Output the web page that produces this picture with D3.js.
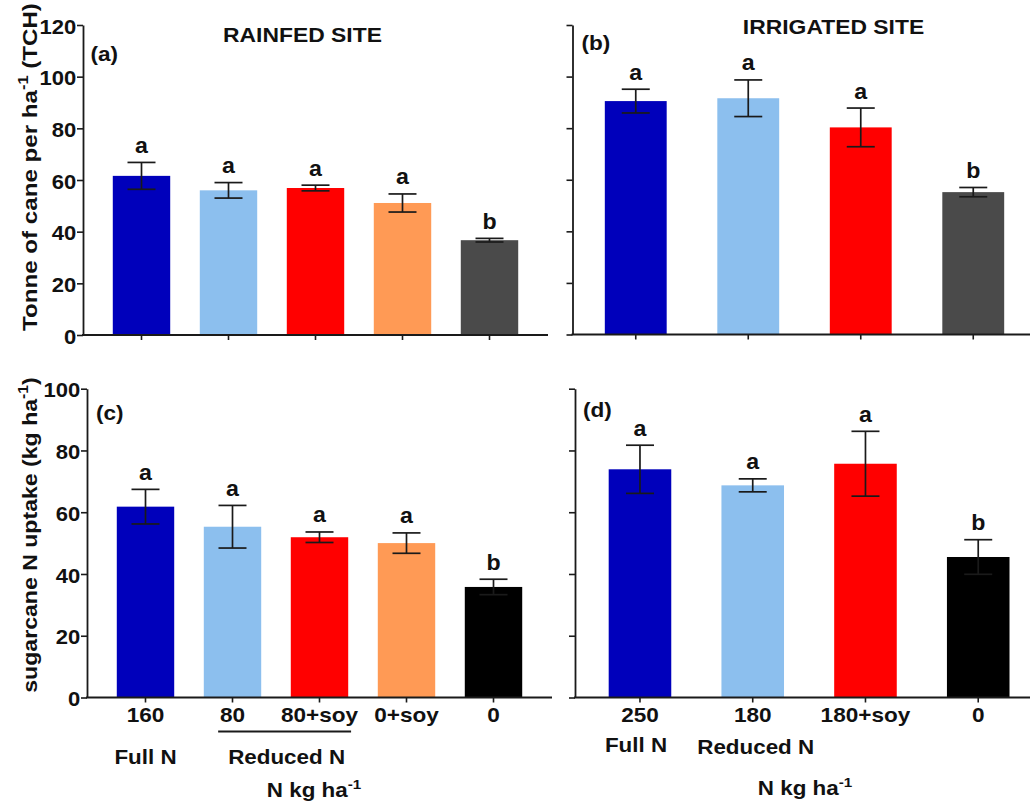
<!DOCTYPE html>
<html>
<head>
<meta charset="utf-8">
<script src="https://cdn.jsdelivr.net/npm/d3@7"></script>
<style>
  html, body { margin: 0; padding: 0; background: #fff; }
  svg { display: block; }
</style>
</head>
<body>
<svg id="chart" width="1030" height="801"></svg>
<script>
// ---------------- DATA ----------------
const rainfedCats = ["160", "80", "80+soy", "0+soy", "0"];
const irrigatedCats = ["250", "180", "180+soy", "0"];

// (a) Tonne of cane per ha, rainfed
const tchRainfed = [61.6, 56.0, 56.9, 51.1, 36.7];
const tchRainfedErr = [5.2, 3.0, 1.1, 3.5, 0.7];
const tchRainfedLetters = ["a", "a", "a", "a", "b"];
// (b) Tonne of cane per ha, irrigated
const tchIrrigated = [90.5, 91.6, 80.3, 55.2];
const tchIrrigatedErr = [4.6, 7.1, 7.5, 1.8];
const tchIrrigatedLetters = ["a", "a", "a", "b"];
// (c) sugarcane N uptake, rainfed
const nupRainfed = [61.8, 55.3, 51.9, 50.0, 35.8];
const nupRainfedErr = [5.6, 6.9, 1.7, 3.3, 2.5];
const nupRainfedLetters = ["a", "a", "a", "a", "b"];
// (d) sugarcane N uptake, irrigated
const nupIrrigated = [73.9, 68.7, 75.7, 45.5];
const nupIrrigatedErr = [7.8, 2.1, 10.5, 5.6];
const nupIrrigatedLetters = ["a", "a", "a", "b"];

const tchTicks = [0, 20, 40, 60, 80, 100, 120];
const nupTicks = [0, 20, 40, 60, 80, 100];

// ---------------- STYLE ----------------
const colTopRain = ["#0000BB", "#8CBFEE", "#FF0000", "#FF9A55", "#4A4A4A"];
const colTopIrr  = ["#0000BB", "#8CBFEE", "#FF0000", "#4A4A4A"];
const colBotRain = ["#0000BB", "#8CBFEE", "#FF0000", "#FF9A55", "#000000"];
const colBotIrr  = ["#0000BB", "#8CBFEE", "#FF0000", "#000000"];
const FONT = "'Liberation Sans', Arial, Helvetica, sans-serif";
const INK = "#1a1a1a";

const svg = d3.select("#chart").style("font-family", FONT).style("font-weight", "bold");

// text helper with horizontal (text-direction) stretch and superscripts
function txt(x, y, parts, o) {
  o = Object.assign({ size: 20, sx: 1.12, rot: 0, anchor: "start" }, o || {});
  const t = svg.append("text")
    .attr("transform", `translate(${x},${y}) rotate(${o.rot}) scale(${o.sx},1)`)
    .attr("text-anchor", o.anchor)
    .style("font-size", o.size + "px")
    .attr("fill", "#111");
  if (typeof parts === "string") parts = [{ t: parts }];
  let shifted = false;
  parts.forEach(p => {
    const s = t.append("tspan").text(p.t);
    if (p.sup) {
      s.attr("dy", -o.size * 0.42).style("font-size", (o.size * 0.68) + "px");
      shifted = true;
    } else if (shifted) {
      s.attr("dy", o.size * 0.42);
      shifted = false;
    }
  });
  return t;
}

const panels = [
  { cats: rainfedCats, vals: tchRainfed, errs: tchRainfedErr, letters: tchRainfedLetters, colors: colTopRain,
    ticks: tchTicks, domain: [0, 120], axX: 83, axEnd: 548, band: [98, 533], pad: 0.34,
    yTop: 25, yBot: 335, yLabels: true, xLabels: false, tag: "(a)", tagPos: [90.5, 61] },
  { cats: irrigatedCats, vals: tchIrrigated, errs: tchIrrigatedErr, letters: tchIrrigatedLetters, colors: colTopIrr,
    ticks: tchTicks, domain: [0, 120], axX: 572.5, axEnd: 1040, band: [579.5, 1029.5], pad: 0.45,
    yTop: 25, yBot: 334.5, yLabels: false, xLabels: false, tag: "(b)", tagPos: [581.5, 50] },
  { cats: rainfedCats, vals: nupRainfed, errs: nupRainfedErr, letters: nupRainfedLetters, colors: colBotRain,
    ticks: nupTicks, domain: [0, 100], axX: 87, axEnd: 552, band: [102, 537], pad: 0.34,
    yTop: 388.7, yBot: 697.5, yLabels: true, xLabels: true, tag: "(c)", tagPos: [96, 420] },
  { cats: irrigatedCats, vals: nupIrrigated, errs: nupIrrigatedErr, letters: nupIrrigatedLetters, colors: colBotIrr,
    ticks: nupTicks, domain: [0, 100], axX: 575, axEnd: 1040, band: [583.6, 1034.6], pad: 0.445,
    yTop: 388.7, yBot: 697.5, yLabels: false, xLabels: true, tag: "(d)", tagPos: [583, 417] }
];

const CAP = 14; // half cap width

panels.forEach(p => {
  const x = d3.scaleBand().domain(p.cats).range(p.band).paddingInner(p.pad).paddingOuter(p.pad / 2);
  const y = d3.scaleLinear().domain(p.domain).range([p.yBot, p.yTop]);
  const rows = p.cats.map((c, i) => ({ c, v: p.vals[i], e: p.errs[i], l: p.letters[i], col: p.colors[i] }));

  const g = svg.append("g");
  // bars
  g.selectAll("rect.bar").data(rows).join("rect")
    .attr("x", d => x(d.c)).attr("width", x.bandwidth())
    .attr("y", d => y(d.v)).attr("height", d => y(0) - y(d.v))
    .attr("fill", d => d.col);

  // error bars
  const eb = g.selectAll("g.err").data(rows).join("g")
    .attr("transform", d => `translate(${x(d.c) + x.bandwidth() / 2},0)`)
    .attr("stroke", INK).attr("stroke-width", 1.7);
  eb.append("line").attr("x1", 0).attr("x2", 0).attr("y1", d => y(d.v - d.e)).attr("y2", d => y(d.v + d.e));
  eb.append("line").attr("x1", -CAP).attr("x2", CAP).attr("y1", d => y(d.v + d.e)).attr("y2", d => y(d.v + d.e));
  eb.append("line").attr("x1", -CAP).attr("x2", CAP).attr("y1", d => y(d.v - d.e)).attr("y2", d => y(d.v - d.e));

  // significance letters
  rows.forEach(d => {
    txt(x(d.c) + x.bandwidth() / 2, y(d.v + d.e) - 9.5, d.l, { size: 22.5, sx: 1.03, anchor: "middle" });
  });

  // y axis
  const ya = d3.axisLeft(y).tickValues(p.ticks).tickSize(6).tickSizeOuter(0).tickPadding(0)
    .tickFormat(p.yLabels ? d3.format("d") : () => "");
  const yg = svg.append("g").attr("transform", `translate(${p.axX},0)`).call(ya);
  yg.select(".domain").attr("stroke", INK).attr("stroke-width", 1.8);
  yg.selectAll(".tick line").attr("stroke", INK).attr("stroke-width", 1.6);
  yg.selectAll(".tick text")
    .attr("font-family", FONT).attr("font-weight", "bold").attr("font-size", 19.5)
    .attr("fill", "#111").attr("dy", "0.42em").attr("transform", "scale(1.13,1)");

  // x axis (ticks + labels from band scale), with separate base line
  const xa = d3.axisBottom(x).tickSize(5).tickSizeOuter(0).tickPadding(5)
    .tickFormat(p.xLabels ? (d => d) : () => "");
  const xg = svg.append("g").attr("transform", `translate(0,${p.yBot})`).call(xa);
  xg.select(".domain").remove();
  xg.selectAll(".tick line").attr("stroke", INK).attr("stroke-width", 1.6);
  xg.selectAll(".tick text")
    .attr("font-family", FONT).attr("font-weight", "bold").attr("font-size", 20)
    .attr("fill", "#111").attr("transform", "scale(1.13,1)");
  svg.append("line").attr("x1", p.axX - 1).attr("x2", p.axEnd).attr("y1", p.yBot).attr("y2", p.yBot)
    .attr("stroke", INK).attr("stroke-width", 1.8);

  // panel tag
  txt(p.tagPos[0], p.tagPos[1], p.tag, { size: 20.5, sx: 1.1 });

  p.x = x; p.y = y;
});

// site titles
txt(302.5, 41.5, "RAINFED SITE", { size: 21, sx: 1.09, anchor: "middle" });
txt(833.5, 33.5, "IRRIGATED SITE", { size: 21, sx: 1.09, anchor: "middle" });

// y axis titles
txt(37, 167, [{ t: "Tonne of cane per ha" }, { t: "-1", sup: true }, { t: " (TCH)" }],
  { size: 21, sx: 1.15, rot: -90, anchor: "middle" });
txt(37, 535, [{ t: "sugarcane N uptake (kg ha" }, { t: "-1", sup: true }, { t: ")" }],
  { size: 21, sx: 1.10, rot: -90, anchor: "middle" });

// group labels under x axes
const pc = panels[2], pd = panels[3];
const bwC = pc.x.bandwidth();
svg.append("line")
  .attr("x1", pc.x(rainfedCats[1]) + bwC * 0.25).attr("x2", pc.x(rainfedCats[2]) + bwC * 1.05)
  .attr("y1", 731.5).attr("y2", 731.5).attr("stroke", INK).attr("stroke-width", 2);
txt(pc.x(rainfedCats[0]) + bwC / 2, 764, "Full N", { anchor: "middle" });
txt((pc.x(rainfedCats[1]) + bwC * 0.25 + pc.x(rainfedCats[2]) + bwC * 1.05) / 2 + 2, 764, "Reduced N", { anchor: "middle" });
txt(314, 797, [{ t: "N kg ha" }, { t: "-1", sup: true }], { anchor: "middle" });

const bwD = pd.x.bandwidth();
txt(pd.x(irrigatedCats[0]) + bwD / 2 - 4, 752, "Full N", { anchor: "middle" });
txt(pd.x(irrigatedCats[1]) + bwD / 2 + 3, 754, "Reduced N", { anchor: "middle" });
txt(805, 795, [{ t: "N kg ha" }, { t: "-1", sup: true }], { anchor: "middle" });
</script>
</body>
</html>
